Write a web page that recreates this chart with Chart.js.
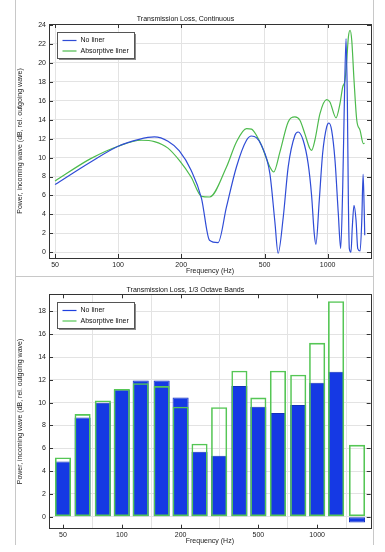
<!DOCTYPE html>
<html>
<head>
<meta charset="utf-8">
<script src="https://cdn.jsdelivr.net/npm/chart.js@4.4.1/dist/chart.umd.min.js"></script>
<style>
  body { margin: 0; background: #fff; }
  #page { position: relative; width: 385px; height: 552px; }
  .frame { position: absolute; left: 15px; width: 357px; border-left: 1px solid #c8c8c8; border-right: 1px solid #c8c8c8; }
  canvas { position: absolute; left: 0; }
</style>
</head>
<body>
<div id="page">
  <div class="frame" style="top:0;height:276px"></div>
  <div class="frame" style="top:276px;height:268px;border-top:1px solid #c8c8c8"></div>
  <canvas id="continuous" width="385" height="276" style="top:0"></canvas>
  <canvas id="bands" width="385" height="276" style="top:276px"></canvas>
</div>
<script>
// axis ticks
const xTicks = [50, 100, 200, 500, 1000];
const yTicksContinuous = [0, 2, 4, 6, 8, 10, 12, 14, 16, 18, 20, 22, 24];
const yTicksBands = [0, 2, 4, 6, 8, 10, 12, 14, 16, 18];
const seriesNames = ["No liner", "Absorptive liner"];

// continuous curves (Hz, dB)
const noLinerFreq = [50, 74, 100, 126, 149, 173, 196, 223, 250, 273, 300, 329, 367, 410, 433, 457, 483, 530, 560, 580,
  614, 648, 698, 723, 764, 807, 838, 863, 879, 912, 946, 989, 1014, 1045, 1084, 1124, 1154, 1180, 1201, 1224,
  1242, 1256, 1269, 1292, 1311, 1336, 1366, 1392, 1428, 1455, 1476, 1493, 1503];
const noLinerPower = [7.15, 9.54, 11.2, 11.93, 12.18, 11.72, 10.7, 8.66, 5.7, 1.27, 1.02, 4.79, 9.01, 11.83, 12.28, 12.1, 11.3, 8.31, 3.2, -0.1,
  3.73, 9.0, 12.35, 12.7, 11.83, 9.36, 6.02, 1.97, 0.84, 5.49, 10.4, 13.23, 13.65, 12.88, 9.71, 4.09, 0.39, 6.9, 15.7, 22.57,
  15.7, 5.14, 0.39, 0.03, 2.67, 4.96, 3.38, 0.39, 0.14, 3.38, 8.24, 4.79, 1.8];
const linerFreq = [50, 74, 100, 129, 149, 173, 196, 223, 250, 273, 329, 367, 410, 433, 457, 483, 530, 553, 592, 648,
  698, 737, 778, 822, 838, 869, 919, 989, 1025, 1096, 1145, 1180, 1210, 1233, 1256, 1279, 1303, 1336, 1377, 1428, 1479, 1500];
const linerPower = [7.53, 9.89, 11.2, 11.83, 11.69, 11.0, 9.7, 7.95, 5.91, 5.84, 9.01, 11.65, 13.06, 13.0, 12.36, 11.3, 9.01, 8.48, 10.6, 13.76,
  14.29, 13.94, 12.53, 10.95, 10.77, 11.83, 14.64, 16.12, 15.87, 14.2, 15.7, 17.46, 18.16, 20.27, 22.73, 23.44, 22.39, 18.16, 13.94, 12.88, 11.48, 11.5];

// 1/3 octave bands
const bandCenters = [50, 63, 80, 100, 125, 160, 200, 250, 315, 400, 500, 630, 800, 1000, 1250, 1600];
const bandNoLiner = [4.85, 8.7, 10.0, 11.15, 11.95, 11.95, 10.45, 5.7, 5.35, 11.45, 9.65, 9.1, 9.8, 11.75, 12.7, -0.5];
const bandLiner = [5.2, 9.0, 10.2, 11.2, 11.7, 11.45, 9.65, 6.4, 9.6, 12.8, 10.45, 12.8, 12.45, 15.25, 18.9, 6.3];

Chart.defaults.font.family = '"Liberation Sans", Arial, sans-serif';
Chart.defaults.font.size = 7;
Chart.defaults.color = "#222";

const pts = (xs, ys) => xs.map((x, i) => ({ x: x, y: ys[i] }));
const fixTicks = list => scale => { scale.ticks = list.map(v => ({ value: v })); };

// plot box, inward tick marks and boxed legend
const plotDecor = {
  id: "plotDecor",
  afterDraw(chart) {
    const { ctx, chartArea: a, scales } = chart;
    ctx.save();
    ctx.strokeStyle = "#333";
    ctx.lineWidth = 1;
    ctx.beginPath();
    scales.x.ticks.forEach(t => {
      const px = Math.round(scales.x.getPixelForValue(t.value)) + 0.5;
      ctx.moveTo(px, a.bottom); ctx.lineTo(px, a.bottom - 4);
      ctx.moveTo(px, a.top); ctx.lineTo(px, a.top + 4);
    });
    scales.y.ticks.forEach(t => {
      const py = Math.round(scales.y.getPixelForValue(t.value)) + 0.5;
      ctx.moveTo(a.left, py); ctx.lineTo(a.left + 4, py);
      ctx.moveTo(a.right, py); ctx.lineTo(a.right - 4, py);
    });
    ctx.stroke();
    ctx.strokeRect(Math.round(a.left) + 0.5, Math.round(a.top) + 0.5, Math.round(a.right - a.left), Math.round(a.bottom - a.top));

    // legend
    const lx = Math.round(a.left) + 8.5, ly = Math.round(a.top) + 8.5, lw = 77, lh = 26;
    ctx.fillStyle = "#8a8a8a";
    ctx.fillRect(lx + 1.5, ly + 1.5, lw, lh);
    ctx.fillStyle = "#fff";
    ctx.fillRect(lx, ly, lw, lh);
    ctx.strokeStyle = "#555";
    ctx.strokeRect(lx, ly, lw, lh);
    ctx.font = '7px "Liberation Sans", Arial, sans-serif';
    ctx.textBaseline = "middle";
    chart.data.datasets.forEach((ds, i) => {
      const y = ly + 8 + i * 10.5;
      ctx.strokeStyle = ds.legendColor;
      ctx.lineWidth = 1.2;
      ctx.beginPath();
      ctx.moveTo(lx + 5, y); ctx.lineTo(lx + 19, y);
      ctx.stroke();
      ctx.fillStyle = "#111";
      ctx.fillText(ds.label, lx + 23, y);
    });
    ctx.restore();
  }
};

function makeScales(o) {
  return {
    x: {
      type: "logarithmic", min: o.xMin, max: o.xMax,
      afterBuildTicks: fixTicks(xTicks),
      afterFit: s => { s.height = o.xHeight; },
      ticks: { callback: v => String(v), padding: o.xTickPad, maxRotation: 0, autoSkip: false },
      grid: { color: "#e3e3e3", drawTicks: false },
      border: { display: false },
      title: { display: true, text: "Frequency (Hz)", padding: { top: 0, bottom: o.xTitlePad } }
    },
    y: {
      type: "linear", min: o.yMin, max: o.yMax,
      afterBuildTicks: fixTicks(o.yTicks),
      afterFit: s => { s.width = 49; },
      ticks: { padding: 3 },
      grid: { color: "#e3e3e3", drawTicks: false },
      border: { display: false },
      title: { display: true, text: "Power, incoming wave (dB, rel. outgoing wave)", padding: { top: 15.8, bottom: 0 } }
    }
  };
}

new Chart(document.getElementById("continuous"), {
  type: "line",
  data: {
    datasets: [
      { label: seriesNames[0], data: pts(noLinerFreq, noLinerPower), borderColor: "#2f4cd6", legendColor: "#2f4cd6",
        borderWidth: 1.2, pointRadius: 0, cubicInterpolationMode: "monotone", fill: false },
      { label: seriesNames[1], data: pts(linerFreq, linerPower), borderColor: "#4cba4c", legendColor: "#4cba4c",
        borderWidth: 1.2, pointRadius: 0, cubicInterpolationMode: "monotone", fill: false }
    ]
  },
  options: {
    responsive: false,
    animation: false,
    layout: { padding: { left: 0, right: 14, top: 0, bottom: 0 } },
    scales: makeScales({ xMin: 46.8, xMax: 1610, yMin: -0.6, yMax: 24.1, yTicks: yTicksContinuous,
      xHeight: 18, xTickPad: 2.8, xTitlePad: 1.1 }),
    plugins: {
      legend: { display: false },
      tooltip: { enabled: false },
      title: { display: true, text: "Transmission Loss, Continuous", color: "#111",
        font: { size: 7, weight: "normal" }, padding: { top: 14.8, bottom: 0.8 } }
    }
  },
  plugins: [plotDecor]
});

new Chart(document.getElementById("bands"), {
  type: "bar",
  data: {
    datasets: [
      { label: seriesNames[0], data: pts(bandCenters, bandNoLiner), backgroundColor: "#1539e4", borderColor: "#1230bb",
        legendColor: "#1e40e0", borderWidth: 1, borderSkipped: false, grouped: false, order: 1 },
      { label: seriesNames[1], data: pts(bandCenters, bandLiner), backgroundColor: "rgba(255,255,255,0)", borderColor: "#55c655",
        legendColor: "#55c655", borderWidth: 1.6, borderSkipped: false, grouped: false, order: 0 }
    ]
  },
  options: {
    responsive: false,
    animation: false,
    categoryPercentage: 1,
    barPercentage: 0.85,
    layout: { padding: { left: 0, right: 14.3, top: 0, bottom: 0 } },
    scales: makeScales({ xMin: 42.4, xMax: 1880, yMin: -1.05, yMax: 19.5, yTicks: yTicksBands,
      xHeight: 23.3, xTickPad: 2.1, xTitlePad: 6.5 }),
    plugins: {
      legend: { display: false },
      tooltip: { enabled: false },
      title: { display: true, text: "Transmission Loss, 1/3 Octave Bands", color: "#111",
        font: { size: 7, weight: "normal" }, padding: { top: 9.8, bottom: 0.1 } }
    }
  },
  plugins: [plotDecor]
});
</script>
</body>
</html>
